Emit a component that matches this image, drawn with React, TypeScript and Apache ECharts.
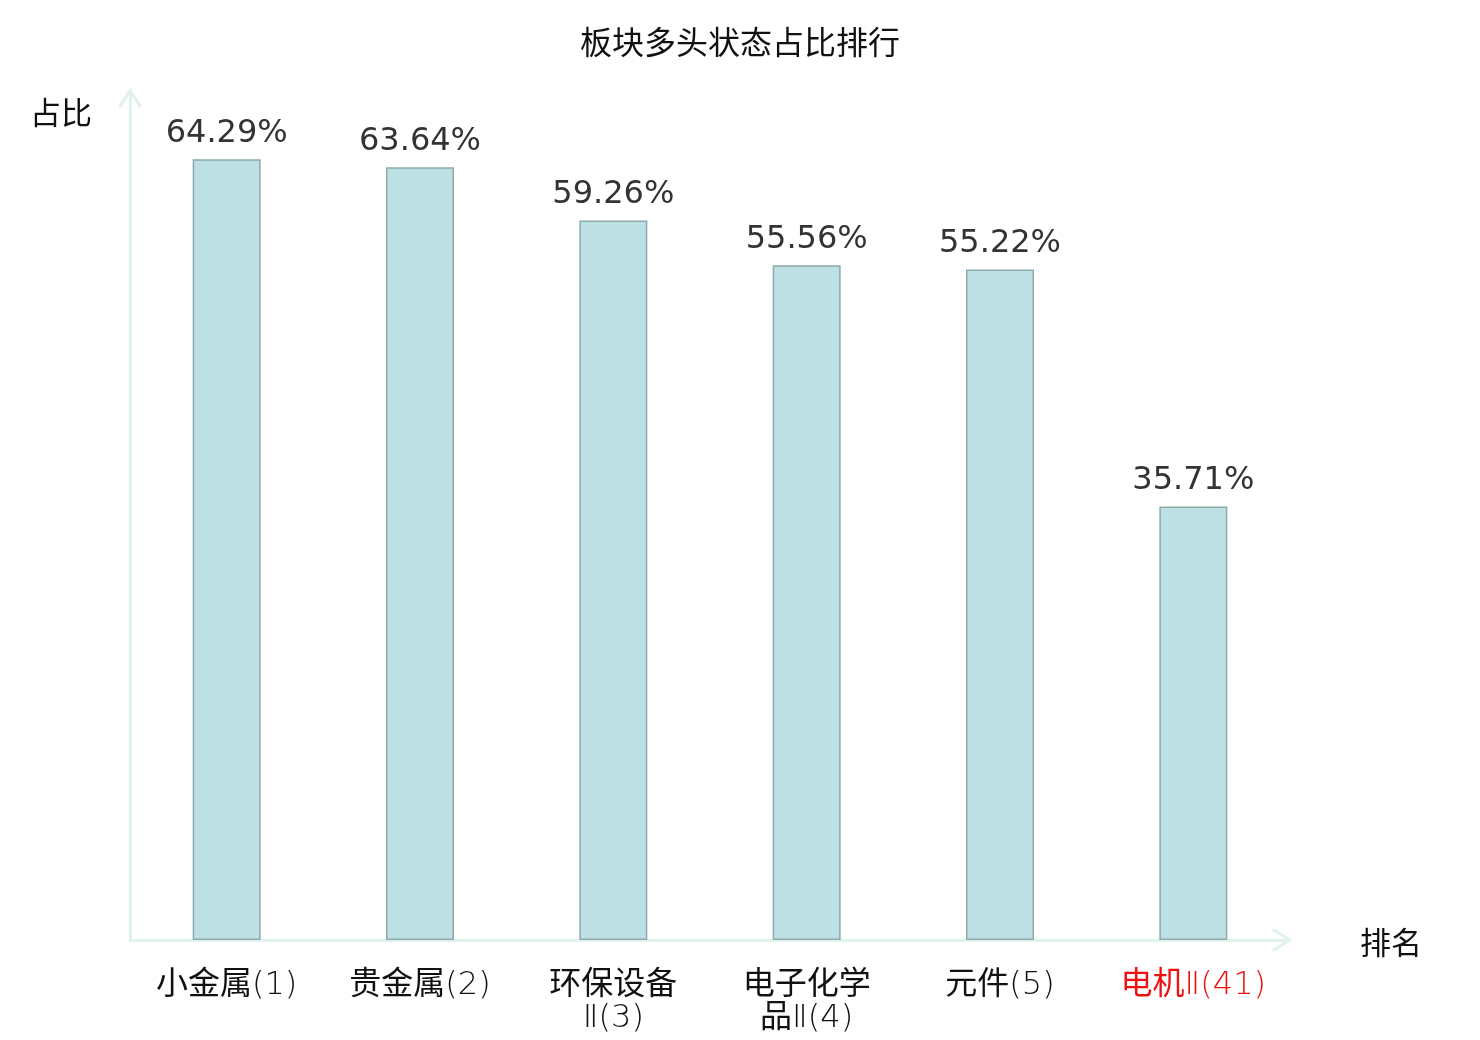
import React, { useEffect, useRef } from "react";
import * as echarts from "echarts";

const chartTitle = "板块多头状态占比排行";
const sectorNames = ["小金属", "贵金属", "环保设备Ⅱ", "电子化学品Ⅱ", "元件", "电机Ⅱ"];
const ranks = [1, 2, 3, 4, 5, 41];
const values = [64.29, 63.64, 59.26, 55.56, 55.22, 35.71];
const highlightIndex = [5];

const categories = sectorNames.map((n, i) => `${n}(${ranks[i]})`);

const chevron = "path://M12,0 L24,18.5 L21.4,20.5 L12,5 L2.6,20.5 L0,18.5 Z";
const cjk = "'Noto Sans CJK SC', 'DejaVu Sans', sans-serif";
const num = "'DejaVu Sans', 'Noto Sans CJK SC', sans-serif";
const light = "'DejaVu Sans Light', 'Noto Sans CJK SC', sans-serif";

function wrapName(name: string, rank: number) {
  const parts: string[] = [];
  for (let i = 0; i < name.length; i += 4) parts.push(name.slice(i, i + 4));
  return parts.join("\n") + `(${rank})`;
}

export default function App() {
  const ref = useRef<HTMLDivElement>(null);
  useEffect(() => {
    const chart = echarts.init(ref.current!, null, { renderer: "svg" });
    const axisLine = {
      show: true,
      lineStyle: { color: "#dff2ef", width: 3 },
      symbol: ["none", chevron],
      symbolSize: [24, 21],
      symbolOffset: [0, -8],
    };
    chart.setOption({
      animation: false,
      title: {
        text: chartTitle,
        left: "center",
        top: 19,
        textStyle: { fontSize: 32, fontWeight: "normal", color: "#111", fontFamily: cjk },
      },
      grid: { left: 130, right: 190, top: 90, bottom: 100, containLabel: false },
      xAxis: {
        type: "category",
        data: categories,
        name: "排名",
        nameGap: 70,
        nameTextStyle: { fontSize: 31, color: "#111", fontFamily: cjk },
        axisLine,
        axisTick: { show: false },
        axisLabel: {
          interval: 0,
          fontSize: 32,
          fontFamily: light,
          fontWeight: "normal",
          lineHeight: 33,
          margin: 26,
          formatter: (_v: string, i: number) => wrapName(sectorNames[i], ranks[i]),
          color: (_v: any, i: number) => (highlightIndex.includes(i) ? "#ee1111" : "#111"),
        },
      },
      yAxis: {
        type: "value",
        min: 0,
        max: 70,
        name: "占比",
        nameLocation: "end",
        nameGap: -20,
        nameTextStyle: {
          fontSize: 31,
          color: "#111",
          fontFamily: cjk,
          align: "right",
          verticalAlign: "middle",
          padding: [0, 38, 0, 0],
        },
        axisLine,
        axisTick: { show: false },
        axisLabel: { show: false },
        splitLine: { show: false },
      },
      series: [
        {
          type: "bar",
          data: values,
          barWidth: 68,
          itemStyle: { color: "#bce0e3", borderColor: "#8ea9aa", borderWidth: 1.5 },
          label: {
            show: true,
            position: "top",
            distance: 12,
            fontSize: 32,
            fontFamily: num,
            color: "#333",
            formatter: (p: any) => p.value.toFixed(2) + "%",
          },
        },
      ],
    });
    return () => chart.dispose();
  }, []);
  return <div ref={ref} style={{ position: "fixed", left: 0, top: 0, width: 1480, height: 1040 }} />;
}
